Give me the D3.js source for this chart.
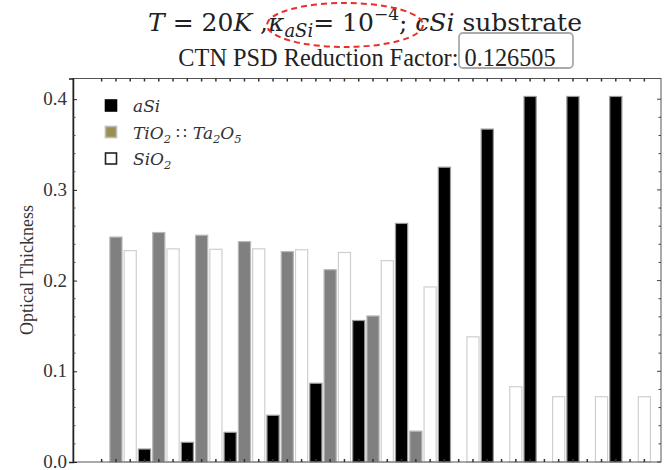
<!DOCTYPE html>
<html><head><meta charset="utf-8">
<script src="https://cdn.jsdelivr.net/npm/d3@7"></script>
<style>body{margin:0;background:#fff}svg{display:block}</style>
</head><body>
<svg id="c" width="671" height="470"></svg>
<script>
const groups = ["1","2","3","4","5","6","7","8","9","10","11","12","13"];
const series = ["aSi","TiO2","SiO2"];
const aSi  = [0, 0.0143, 0.0217, 0.0327, 0.0515, 0.0868, 0.156, 0.263, 0.325, 0.367, 0.403, 0.403, 0.403];
const TiO2 = [0.248, 0.253, 0.250, 0.243, 0.232, 0.212, 0.161, 0.034, 0, 0, 0, 0, 0];
const SiO2 = [0.233, 0.235, 0.2345, 0.235, 0.234, 0.231, 0.222, 0.193, 0.138, 0.083, 0.072, 0.072, 0.072];
const yTicks = [0, 0.1, 0.2, 0.3, 0.4];
const yTickLabels = ["0.0","0.1","0.2","0.3","0.4"];

const svg = d3.select("#c");
const L = 73, R = 661, T = 78.5, B = 462;

const slots = [];
groups.forEach((g,i)=>{
  slots.push({key:g+"-a", s:"aSi", v:aSi[i]});
  slots.push({key:g+"-t", s:"TiO2", v:TiO2[i]});
  slots.push({key:g+"-s", s:"SiO2", v:SiO2[i]});
});
const x = d3.scaleBand().domain(slots.map(d=>d.key)).range([94.5, 651.5]).paddingInner(0.15).paddingOuter(0.075);
const y = d3.scaleLinear().domain([0, 0.4228]).range([B, T]);

const fill = {aSi:"#000", TiO2:"#808080", SiO2:"#fff"};
const stroke = {aSi:"#999", TiO2:"#b8b8b8", SiO2:"#cfcfcf"};

svg.append("g").selectAll("rect").data(slots.filter(d=>d.v>0)).join("rect")
  .attr("x", d=>x(d.key)).attr("width", x.bandwidth())
  .attr("y", d=>y(d.v)).attr("height", d=>B - y(d.v))
  .attr("fill", d=>fill[d.s]).attr("stroke", d=>stroke[d.s]).attr("stroke-width",1.2);

svg.append("rect").attr("x",L).attr("y",T).attr("width",R-L).attr("height",B-T)
  .attr("fill","none").attr("stroke","#555").attr("stroke-width",1);

const yAxis = d3.axisLeft(y).tickValues(yTicks).tickFormat((d,i)=>yTickLabels[i]).tickSize(4).tickPadding(3);
const gy = svg.append("g").attr("transform",`translate(${L},0)`).call(yAxis);
gy.select(".domain").attr("stroke","#222").attr("stroke-width",1.5);
gy.selectAll(".tick line").attr("x2",4).attr("stroke","#222");
gy.selectAll(".tick text").attr("font-family","Liberation Serif").attr("font-size",19).attr("fill","#333").attr("x",-6).attr("dy","0.3em");
const minor = d3.range(0.02, 0.42, 0.02).filter(v=>Math.abs(v*10-Math.round(v*10))>1e-6);
svg.append("g").selectAll("line").data(minor).join("line")
  .attr("x1",L).attr("x2",L+2.5).attr("y1",d=>y(d)).attr("y2",d=>y(d)).attr("stroke","#444");
svg.append("g").selectAll("line").data(yTicks.concat(minor)).join("line")
  .attr("x1",R).attr("x2",d=>R-(yTicks.includes(d)?4:2.5)).attr("y1",d=>y(d)).attr("y2",d=>y(d)).attr("stroke","#444");
const cx = d=>x(d.key)+x.bandwidth()/2;
svg.append("g").selectAll("line").data(slots).join("line")
  .attr("x1",cx).attr("x2",cx).attr("y1",B).attr("y2",B-3).attr("stroke","#333").attr("stroke-width",1.5);
svg.append("g").selectAll("line").data(slots).join("line")
  .attr("x1",cx).attr("x2",cx).attr("y1",T).attr("y2",T+3).attr("stroke","#333").attr("stroke-width",1.5);

svg.append("text").attr("transform","translate(33,270) rotate(-90)").attr("text-anchor","middle")
  .attr("font-family","Liberation Serif").attr("font-size",18).attr("fill","#333").text("Optical Thickness");

const leg = [{s:"aSi", c:"#000", st:"#000"},{s:"TiO2", c:"#9a9150", st:"#bbb"},{s:"SiO2", c:"#fff", st:"#222"}];
const lg = svg.append("g");
leg.forEach((d,i)=>{
  const yy = 100 + i*26.5;
  lg.append("rect").attr("x",105.5).attr("y",yy).attr("width",11).attr("height",11)
    .attr("fill",d.c).attr("stroke",d.st).attr("stroke-width",1.6);
});
const lf = "DejaVu Serif";
const fs = 17, ss = 11.5;
const t1 = lg.append("text").attr("x",133).attr("y",112).attr("font-family",lf).attr("font-style","italic").attr("font-size",fs).attr("fill","#333");
t1.append("tspan").text("aSi");
const t2 = lg.append("text").attr("x",133).attr("y",138.5).attr("font-family",lf).attr("font-style","italic").attr("font-size",fs).attr("fill","#333");
t2.append("tspan").text("TiO");
t2.append("tspan").attr("dy",4).attr("font-size",ss).text("2");
t2.append("tspan").attr("dy",-4).attr("font-style","normal").text(" ∷ ");
t2.append("tspan").text("Ta");
t2.append("tspan").attr("dy",4).attr("font-size",ss).text("2");
t2.append("tspan").attr("dy",-4).text("O");
t2.append("tspan").attr("dy",4).attr("font-size",ss).text("5");
const t3 = lg.append("text").attr("x",133).attr("y",165).attr("font-family",lf).attr("font-style","italic").attr("font-size",fs).attr("fill","#333");
t3.append("tspan").text("SiO");
t3.append("tspan").attr("dy",4).attr("font-size",ss).text("2");

const tf = "DejaVu Serif";
const tt = svg.append("text").attr("x",365).attr("y",31).attr("text-anchor","middle")
  .attr("font-family",tf).attr("font-size",25).attr("fill","#222");
tt.append("tspan").attr("font-style","italic").text("T");
tt.append("tspan").text(" = 20");
tt.append("tspan").attr("font-style","italic").text("K");
tt.append("tspan").text(" ,");
tt.append("tspan").attr("font-style","italic").text("κ");
tt.append("tspan").attr("font-style","italic").attr("font-size",18).attr("dy",6).text("aSi");
tt.append("tspan").attr("dy",-6).text("= 10");
tt.append("tspan").attr("font-size",17).attr("dy",-11).text("−4");
tt.append("tspan").attr("dy",11).text("; ");
tt.append("tspan").attr("font-style","italic").text("cSi");
tt.append("tspan").text(" substrate");

svg.append("ellipse").attr("cx",345).attr("cy",25).attr("rx",78).attr("ry",22)
  .attr("fill","none").attr("stroke","#e8302a").attr("stroke-width",2).attr("stroke-dasharray","6,4");

svg.append("text").attr("x",367).attr("y",66).attr("text-anchor","middle")
  .attr("font-family","Liberation Serif").attr("font-size",24.3).attr("fill","#222")
  .text("CTN PSD Reduction Factor: 0.126505");
svg.append("rect").attr("x",459).attr("y",33).attr("width",114).attr("height",35).attr("rx",4)
  .attr("fill","none").attr("stroke","#aaa").attr("stroke-width",1.8);
</script>
</body></html>
